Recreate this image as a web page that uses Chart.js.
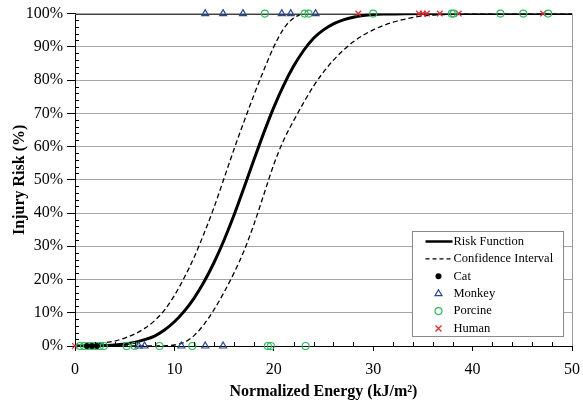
<!DOCTYPE html>
<html><head><meta charset="utf-8">
<script src="https://cdn.jsdelivr.net/npm/chart.js@4.4.1/dist/chart.umd.min.js"></script>
<style>html,body{margin:0;padding:0;background:#fff;}#wrap{width:583px;height:402px;}</style>
</head><body><div id="wrap"><canvas id="c" width="583" height="402"></canvas></div>
<script>
// ---- data ----
const curveEnergy = [0,1,2,3,4,5,6,7,8,9,10,11,12,13,14,15,16,17,18,19,20,21,22,23,24,25,26,27,28,29,30,31,32,33,35,38,40,45,50];
const riskFunction = [0,0.01,0.05,0.15,0.3,0.6,1.1,1.9,3.0,4.8,7.3,10.5,14.5,19.4,25.2,31.9,39.4,47.6,56.0,64.2,71.8,78.5,84.2,88.9,92.6,95.1,96.9,98.1,98.9,99.4,99.7,99.85,99.9,99.95,100,100,100,100,100];
const ciLowerRisk = [0,0,0,0,0,0,0,0,0,0.05,0.3,1.1,3.2,6.6,11.0,16.2,22.0,28.6,36.6,45.6,54.6,62.0,67.8,73.2,78.2,82.4,86.0,89.0,91.5,93.5,95.1,96.4,97.4,98.2,99.3,99.8,100,100,100];
const ciUpperEnergy = [0,1,2,3,4,5,6,7,8,9,10,11,12,13,14,15,16,17,18,19,20,21,22,22.6];
const ciUpperRisk = [0,0.2,0.5,1.0,1.5,2.4,3.6,5.3,7.6,10.8,15.2,20.6,26.8,34,41.8,50.5,59.2,67.5,75.5,83,90,95.5,98.7,99.6];

const catNoInjury = [1.2,1.7,2.2];
const monkeyNoInjury = [6.4,7.0,10.7,13.1,14.9];
const porcineNoInjury = [0.5,0.9,1.3,1.7,2.1,2.5,2.9,5.2,6.0,8.5,11.8,19.4,19.7,23.2];
const humanNoInjury = [0];
const monkeyInjury = [13.1,14.9,16.9,20.8,21.7,24.2];
const porcineInjury = [19.1,23.1,23.5,30.0,37.9,38.1,42.8,45.1,47.6];
const humanInjury = [28.5,34.6,35.0,35.4,36.7,38.6,47.1];

const xTickValues = [0,10,20,30,40,50];
const yTickValues = [0,10,20,30,40,50,60,70,80,90,100];

// ---- styling ----
const SERIF = '"Liberation Serif", "Times New Roman", serif';
const colors = {cat:'#000000', monkey:'#2B4A8C', porcine:'#2EB85C', human:'#E0242B'};

const pts = (xs, ys) => xs.map((v,i)=>({x:v, y:ys[i]}));
const flat = (xs, level) => xs.map(v=>({x:v, y:level}));

const datasets = [
  {label:'Risk Function', data:pts(curveEnergy, riskFunction), showLine:true, borderColor:'#000', borderWidth:3, pointRadius:0, cubicInterpolationMode:'monotone', order:1},
  {label:'Confidence Interval', data:pts(ciUpperEnergy, ciUpperRisk), showLine:true, borderColor:'#000', borderWidth:1.3, borderDash:[5,3], pointRadius:0, cubicInterpolationMode:'monotone', order:2},
  {label:'Confidence Interval (lower)', data:pts(curveEnergy, ciLowerRisk), showLine:true, borderColor:'#000', borderWidth:1.3, borderDash:[5,3], pointRadius:0, cubicInterpolationMode:'monotone', order:2},
  {label:'Cat', data:flat(catNoInjury,0), pointStyle:'circle', pointRadius:2.5, backgroundColor:colors.cat, borderColor:colors.cat, borderWidth:1, clip:false, order:0},
  {label:'Monkey', data:flat(monkeyNoInjury,0).concat(flat(monkeyInjury,100)), pointStyle:'triangle', pointRadius:4, backgroundColor:'rgba(0,0,0,0)', borderColor:colors.monkey, borderWidth:1.2, clip:false, order:0},
  {label:'Porcine', data:flat(porcineNoInjury,0).concat(flat(porcineInjury,100)), pointStyle:'circle', pointRadius:3.5, backgroundColor:'rgba(0,0,0,0)', borderColor:colors.porcine, borderWidth:1.1, clip:false, order:0},
  {label:'Human', data:flat(humanNoInjury,0).concat(flat(humanInjury,100)), pointStyle:'crossRot', pointRadius:4, backgroundColor:colors.human, borderColor:colors.human, borderWidth:1.2, clip:false, order:0}
];

function drawMarker(ctx, style, x, y, color){
  ctx.save();
  ctx.strokeStyle = color; ctx.fillStyle = color; ctx.lineWidth = 1.2;
  ctx.beginPath();
  if (style === 'dot'){ ctx.arc(x,y,3,0,Math.PI*2); ctx.fill(); }
  else if (style === 'circle'){ ctx.arc(x,y,3.5,0,Math.PI*2); ctx.stroke(); }
  else if (style === 'triangle'){ const r=4; ctx.moveTo(x, y-r); ctx.lineTo(x+r*0.87, y+r*0.5); ctx.lineTo(x-r*0.87, y+r*0.5); ctx.closePath(); ctx.stroke(); }
  else if (style === 'x'){ const r=3; ctx.moveTo(x-r,y-r); ctx.lineTo(x+r,y+r); ctx.moveTo(x+r,y-r); ctx.lineTo(x-r,y+r); ctx.stroke(); }
  ctx.restore();
}

const extras = {
  id:'extras',
  beforeDatasetsDraw(chart){
    const {ctx, chartArea:a} = chart;
    ctx.save();
    ctx.strokeStyle = '#9a9a9a'; ctx.lineWidth = 1;
    ctx.beginPath();
    ctx.moveTo(Math.round(a.right)+0.5, a.top); ctx.lineTo(Math.round(a.right)+0.5, a.bottom);
    ctx.stroke();
    ctx.strokeStyle = '#404040';
    ctx.beginPath();
    ctx.moveTo(a.left, Math.round(a.top)+0.5); ctx.lineTo(a.right, Math.round(a.top)+0.5);
    ctx.stroke();
    ctx.restore();
  },
  afterDraw(chart){
    const {ctx, chartArea:a, scales:{x, y}} = chart;
    ctx.save();
    ctx.strokeStyle = '#000'; ctx.lineWidth = 1;
    ctx.beginPath();
    for (let v = 2; v < 50; v += 2){
      if (v % 10 === 0) continue;
      const px = Math.round(x.getPixelForValue(v)) + 0.5;
      ctx.moveTo(px, a.bottom); ctx.lineTo(px, a.bottom - 4);
    }
    for (let v = 2; v < 100; v += 2){
      if (v % 10 === 0) continue;
      const py = Math.round(y.getPixelForValue(v)) + 0.5;
      ctx.moveTo(a.left, py); ctx.lineTo(a.left + 4, py);
    }
    ctx.stroke();

    // legend box inside the plot
    const w = 151, h = 105;
    const L = Math.round(a.right - 160) + 0.5, T = Math.round(a.bottom - 115) + 0.5;
    ctx.fillStyle = '#fff'; ctx.fillRect(L, T, w, h);
    ctx.strokeStyle = '#8a8a8a'; ctx.lineWidth = 1; ctx.strokeRect(L, T, w, h);
    const rows = [
      {t:'Risk Function', kind:'solid'},
      {t:'Confidence Interval', kind:'dash'},
      {t:'Cat', kind:'dot', c:colors.cat},
      {t:'Monkey', kind:'triangle', c:colors.monkey},
      {t:'Porcine', kind:'circle', c:colors.porcine},
      {t:'Human', kind:'x', c:colors.human}
    ];
    ctx.font = '12.5px ' + SERIF; ctx.textBaseline = 'middle'; ctx.fillStyle = '#000';
    rows.forEach((r, i) => {
      const cy = T + 10 + i * 17.4;
      if (r.kind === 'solid' || r.kind === 'dash'){
        ctx.save();
        ctx.strokeStyle = '#000';
        ctx.lineWidth = r.kind === 'solid' ? 2.5 : 1.3;
        ctx.setLineDash(r.kind === 'dash' ? [4,3] : []);
        ctx.beginPath(); ctx.moveTo(L + 13, cy); ctx.lineTo(L + 40, cy); ctx.stroke();
        ctx.restore();
      } else {
        drawMarker(ctx, r.kind, L + 26, cy, r.c);
      }
      ctx.fillStyle = '#000';
      ctx.fillText(r.t, L + 41, cy);
    });
    ctx.restore();
  }
};

new Chart(document.getElementById('c'), {
  type:'scatter',
  data:{datasets},
  plugins:[extras],
  options:{
    responsive:false, animation:false, devicePixelRatio:1,
    layout:{padding:{top:11, right:11, left:0, bottom:0}},
    plugins:{legend:{display:false}, tooltip:{enabled:false}},
    scales:{
      x:{
        type:'linear', min:0, max:50,
        afterBuildTicks(s){ s.ticks = xTickValues.map(v=>({value:v})); },
        afterFit(s){ s.height = 56; s.paddingLeft = 0; s.paddingRight = 0; },
        ticks:{color:'#000', font:{family:SERIF, size:16}, padding:9, maxRotation:0},
        grid:{drawOnChartArea:false, tickLength:5, tickColor:'#000', color:'#000'},
        border:{display:true, color:'#000', width:1},
        title:{display:true, text:'Normalized Energy (kJ/m²)', color:'#000', font:{family:SERIF, size:16, weight:'bold'}, padding:{top:0, bottom:1}}
      },
      y:{
        type:'linear', min:0, max:100,
        afterBuildTicks(s){ s.ticks = yTickValues.map(v=>({value:v})); },
        afterFit(s){ s.width = 75; },
        ticks:{color:'#000', font:{family:SERIF, size:16}, padding:4, callback:v=>v+'%'},
        grid:{drawOnChartArea:true, color:'#a6a6a6', tickLength:8, tickColor:'#000'},
        border:{display:true, color:'#000', width:1},
        title:{display:true, text:'Injury Risk (%)', color:'#000', font:{family:SERIF, size:16, weight:'bold'}, padding:{top:10, bottom:0}}
      }
    }
  }
});
</script></body></html>
